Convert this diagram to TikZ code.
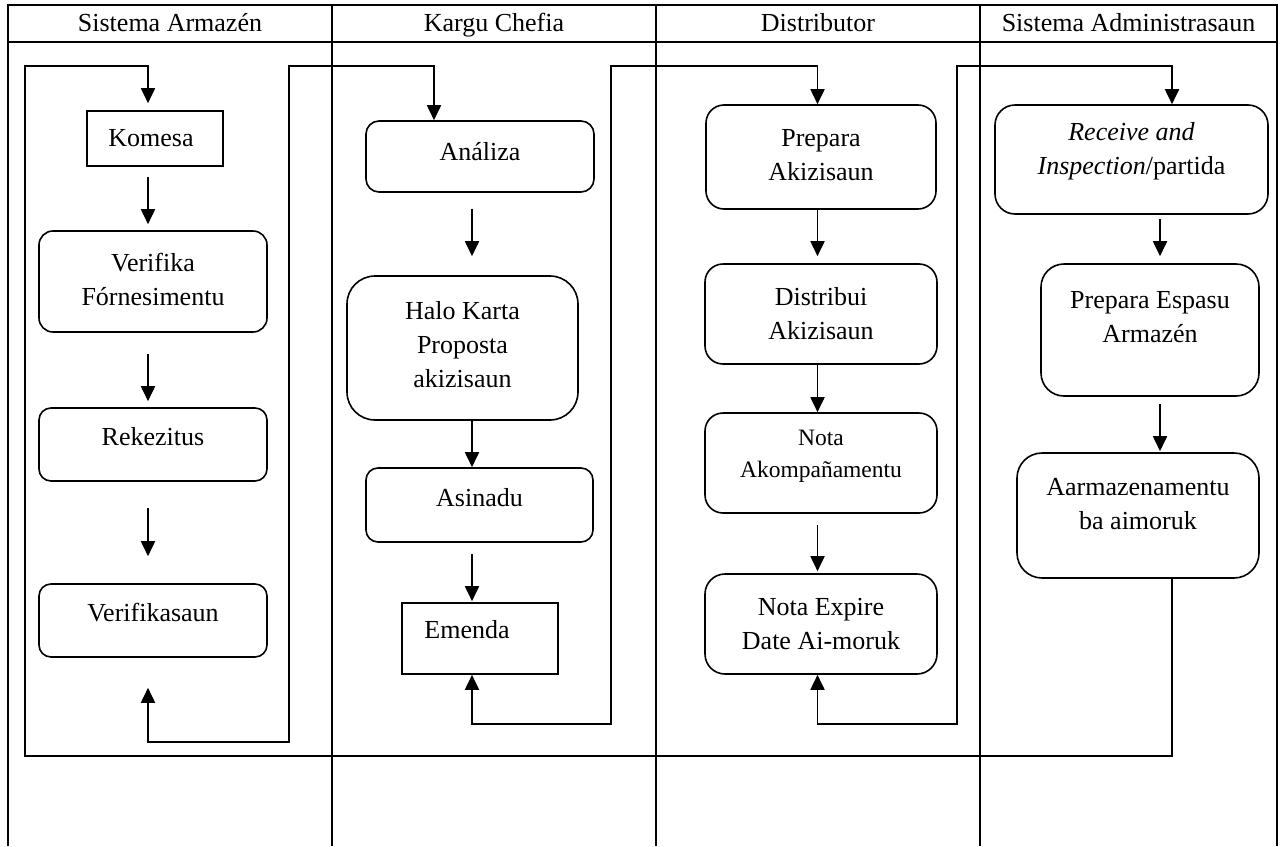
\documentclass[tikz,border=0pt]{standalone}
\usepackage{fontspec}
\setmainfont{Liberation Serif}
\usetikzlibrary{arrows.meta}
\begin{document}
\begin{tikzpicture}[x=1pt,y=-1pt,
  tbl/.style={line width=1.9pt},
  wire/.style={line width=1.8pt},
  arr/.style={wire,-{Triangle[length=15pt,width=14pt]}},
  barr/.style={wire,{Triangle[length=15pt,width=14pt]}-{Triangle[length=15pt,width=14pt]}},
  rbox/.style={draw,line width=1.6pt,rounded corners=#1,inner sep=0pt},
  sbox/.style={draw,line width=1.6pt,inner sep=0pt},
  sz/.style 2 args={minimum width=#1,minimum height=#2},
  txt/.style={align=center,inner sep=0pt,font=\fontsize{26}{34}\selectfont},
  small/.style={align=center,inner sep=0pt,font=\fontsize{23.5}{32}\selectfont},
  hdr/.style={inner sep=0pt,anchor=base,font=\fontsize{26}{34}\selectfont}
]
\useasboundingbox (0,0) rectangle (1282,846);

% table
\draw[tbl] (8,846) -- (8,5) -- (1277,5) -- (1277,846);
\draw[tbl] (8,42) -- (1277,42);
\draw[tbl] (332,5) -- (332,846);
\draw[tbl] (656,5) -- (656,846);
\draw[tbl] (980,5) -- (980,846);

% headers
\node[hdr] (h1) at (170,31.5) {Sistema Armazén};
\node[hdr] (h2) at (494,31.5) {Kargu Chefia};
\node[hdr] (h3) at (818,31.5) {Distributor};
\node[hdr] (h4) at (1128.5,31.5) {Sistema Administrasaun};

% boxes column 1
\node[sbox,sz={136pt}{55pt},label={[txt,xshift=-4pt]center:Komesa}] (komesa) at (155,138.5) {};
\node[rbox=14pt,sz={228pt}{101pt},label={[txt,yshift=2pt]center:Verifika\\Fórnesimentu}] (verif1) at (153,281.5) {};
\node[rbox=12pt,sz={228pt}{73pt},label={[txt,yshift=7.5pt]center:Rekezitus}] (rekez) at (153,444.5) {};
\node[rbox=12pt,sz={228pt}{73pt},label={[txt,yshift=7.5pt]center:Verifikasaun}] (verifik) at (153,620.5) {};

% boxes column 2
\node[rbox=13pt,sz={228pt}{71pt},label={[txt,yshift=4.5pt]center:Análiza}] (analiza) at (480,156.5) {};
\node[rbox=28pt,sz={231pt}{144pt},label={[txt,yshift=3pt]center:Halo Karta\\Proposta\\akizisaun}] (halo) at (462.5,348) {};
\node[rbox=12pt,sz={227pt}{74pt},label={[txt,yshift=7pt]center:Asinadu}] (asinadu) at (479.5,505) {};
\node[sbox,sz={156pt}{71pt},label={[txt,yshift=8.5pt,xshift=-13pt]center:Emenda}] (emenda) at (480,638.5) {};

% boxes column 3
\node[rbox=18pt,sz={230pt}{104pt},label={[txt,yshift=2pt]center:Prepara\\Akizisaun}] (prepakiz) at (821,157) {};
\node[rbox=18pt,sz={232pt}{100pt},label={[txt]center:Distribui\\Akizisaun}] (distrib) at (821,314) {};
\node[rbox=18pt,sz={232pt}{100pt},label={[small,yshift=6.5pt]center:Nota\\Akompañamentu}] (notaak) at (821,463) {};
\node[rbox=20pt,sz={232pt}{100pt},label={[txt]center:Nota Expire\\Date Ai-moruk}] (notaexp) at (821,624) {};

% boxes column 4
\node[rbox=20pt,sz={273pt}{109pt},label={[txt,yshift=8.5pt]center:\textit{Receive and}\\\textit{Inspection}/partida}] (receive) at (1131.5,159.5) {};
\node[rbox=23pt,sz={218pt}{132pt},label={[txt,yshift=12.5pt]center:Prepara Espasu\\Armazén}] (prepesp) at (1150,330) {};
\node[rbox=25pt,sz={242pt}{125pt},label={[txt,yshift=11pt]center:Aarmazenamentu\\ba aimoruk}] (aarmaz) at (1138,515.5) {};

% guide coordinates
\coordinate (a1) at (148,0);
\coordinate (a2) at (472,0);
\coordinate (a3) at (817.5,0);
\coordinate (a4) at (1160,0);
\coordinate (r1) at (289,0);
\coordinate (r2) at (611,0);
\coordinate (r3) at (957,0);
\coordinate (t1) at (434,0);
\coordinate (xl) at (25,0);
\coordinate (xe) at (1172,0);
\coordinate (yt) at (0,66);
\coordinate (yb) at (0,756);
\coordinate (yB) at (0,742);
\coordinate (yC) at (0,724);

% column arrows
\draw[arr,shorten <=10pt,shorten >=6pt] (komesa.south -| a1) -- (verif1.north -| a1);
\draw[arr,shorten <=21pt,shorten >=6pt] (verif1.south -| a1) -- (rekez.north -| a1);
\draw[arr,shorten <=26pt,shorten >=27pt] (rekez.south -| a1) -- (verifik.north -| a1);

\draw[arr,shorten <=16pt,shorten >=19pt] (analiza.south -| a2) -- (halo.north -| a2);
\draw[arr] (halo.south -| a2) -- (asinadu.north -| a2);
\draw[arr,shorten <=11pt,shorten >=1pt] (asinadu.south -| a2) -- (emenda.north -| a2);

\draw[arr,shorten >=7pt] (prepakiz.south -| a3) -- (distrib.north -| a3);
\draw[arr] (distrib.south -| a3) -- (notaak.north -| a3);
\draw[arr,shorten <=11pt,shorten >=2pt] (notaak.south -| a3) -- (notaexp.north -| a3);

\draw[arr,shorten <=4pt,shorten >=7pt] (receive.south -| a4) -- (prepesp.north -| a4);
\draw[arr,shorten <=7pt,shorten >=1pt] (prepesp.south -| a4) -- (aarmaz.north -| a4);

% loop connectors
\draw[arr,shorten >=7pt] (aarmaz.south -| xe) -- (xe |- yb) -- (xl |- yb) -- (xl |- yt) -- (a1 |- yt) -- (komesa.north -| a1);
\draw[barr,shorten <=30pt] (verifik.south -| a1) -- (a1 |- yB) -- (r1 |- yB) -- (r1 |- yt) -- (t1 |- yt) -- (analiza.north -| t1);
\draw[barr] (emenda.south -| a2) -- (a2 |- yC) -- (r2 |- yC) -- (r2 |- yt) -- (a3 |- yt) -- (prepakiz.north -| a3);
\draw[barr] (notaexp.south -| a3) -- (a3 |- yC) -- (r3 |- yC) -- (r3 |- yt) -- (xe |- yt) -- (receive.north -| xe);
\end{tikzpicture}
\end{document}
